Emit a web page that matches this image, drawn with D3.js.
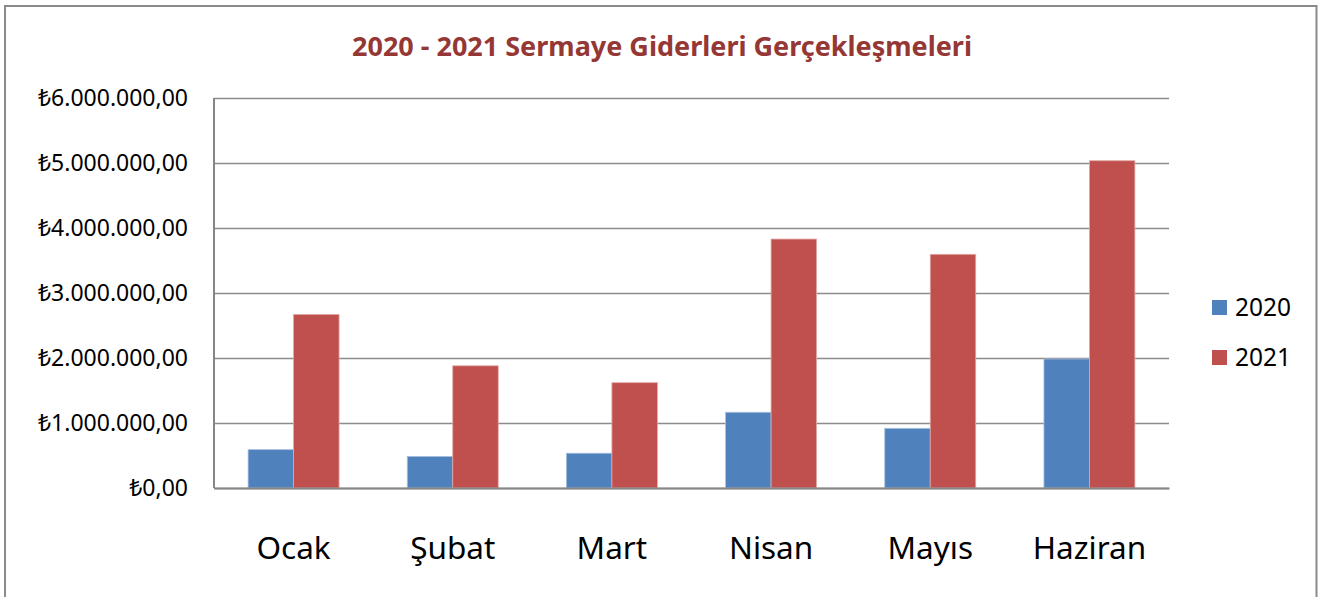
<!DOCTYPE html>
<html>
<head>
<meta charset="utf-8">
<script src="https://cdn.jsdelivr.net/npm/d3@7"></script>
<style>
  html, body { margin: 0; padding: 0; background: #fff; }
  svg { display: block; }
</style>
</head>
<body>
<script>
const categories = ["Ocak", "Şubat", "Mart", "Nisan", "Mayıs", "Haziran"];
const seriesNames = ["2020", "2021"];
const values2020 = [590000, 485000, 535000, 1165000, 918000, 1985000];
const values2021 = [2670000, 1880000, 1620000, 3830000, 3595000, 5035000];
const yTicks = [0, 1000000, 2000000, 3000000, 4000000, 5000000, 6000000];
const titleText = "2020 - 2021 Sermaye Giderleri Gerçekleşmeleri";
const colors = ["#4F81BD", "#C0504D"];

const W = 1318, H = 597;
const plot = { left: 214, right: 1169, top: 98, bottom: 488 };

const svg = d3.select("body").append("svg").attr("width", W).attr("height", H);

// outer frame
svg.append("rect").attr("x", 5).attr("y", 6).attr("width", 1311.5).attr("height", 600)
  .attr("fill", "#fff").attr("stroke", "#8a8a8a").attr("stroke-width", 2);

const font = "'Noto Sans', 'DejaVu Sans', sans-serif";

// title
svg.append("text").attr("x", 662).attr("y", 56).attr("text-anchor", "middle")
  .attr("font-family", font).attr("font-weight", "bold").attr("font-size", 27)
  .attr("fill", "#953735")
  .attr("textLength", 620).attr("lengthAdjust", "spacingAndGlyphs")
  .text(titleText);

const x0 = d3.scaleBand().domain(categories).range([plot.left, plot.right]).paddingInner(0);
const x1 = d3.scaleBand().domain(seriesNames).range([0, x0.bandwidth()]).paddingInner(0).paddingOuter(0.75);
const y = d3.scaleLinear().domain([0, 6000000]).range([plot.bottom, plot.top]);

const fmt = v => "₺" + d3.format(",.2f")(v).replace(/,/g, "#").replace(/\./g, ",").replace(/#/g, ".");

// gridlines
const yAxis = d3.axisLeft(y).tickValues(yTicks).tickSize(-(plot.right - plot.left)).tickFormat(fmt).tickPadding(26);
const gy = svg.append("g").attr("transform", `translate(${plot.left},0)`).call(yAxis);
gy.select(".domain").remove();
gy.selectAll(".tick line").attr("stroke", "#8c8c8c").attr("stroke-width", 1.6);
gy.selectAll(".tick text").attr("font-family", font).attr("font-size", 23).attr("fill", "#000")
  .attr("dy", "0.34em");

// bars
const data = categories.map((c, i) => ({ c, vals: [values2020[i], values2021[i]] }));
const groups = svg.append("g").selectAll("g").data(data).join("g")
  .attr("transform", d => `translate(${x0(d.c)},0)`);
groups.selectAll("rect").data(d => d.vals.map((v, j) => ({ v, s: seriesNames[j], j })))
  .join("rect")
  .attr("x", d => x1(d.s))
  .attr("width", x1.bandwidth())
  .attr("y", d => y(d.v))
  .attr("height", d => y(0) - y(d.v))
  .attr("fill", d => colors[d.j])
  .attr("stroke", d => d.j === 0 ? "#a9c0de" : "#e0a8a6")
  .attr("stroke-width", 0.8);

// axes lines
svg.append("line").attr("x1", plot.left).attr("x2", plot.left).attr("y1", plot.top).attr("y2", plot.bottom)
  .attr("stroke", "#868686").attr("stroke-width", 2);
const xAxis = d3.axisBottom(x0).tickSize(0).tickPadding(46);
const gx = svg.append("g").attr("transform", `translate(0,${plot.bottom})`).call(xAxis);
gx.select(".domain").attr("stroke", "#868686").attr("stroke-width", 2.2);
gx.selectAll(".tick text").attr("font-family", font).attr("font-size", 31.5).attr("fill", "#000")
  .attr("dy", "0").attr("y", 71);

// legend
const lg = svg.append("g").selectAll("g").data(seriesNames).join("g")
  .attr("transform", (d, i) => `translate(1212,${300 + i * 50})`);
lg.append("rect").attr("width", 15).attr("height", 15).attr("fill", (d, i) => colors[i]);
lg.append("text").attr("x", 23).attr("y", 16).attr("font-family", font).attr("font-size", 24.5)
  .attr("fill", "#000").text(d => d);
</script>
</body>
</html>
